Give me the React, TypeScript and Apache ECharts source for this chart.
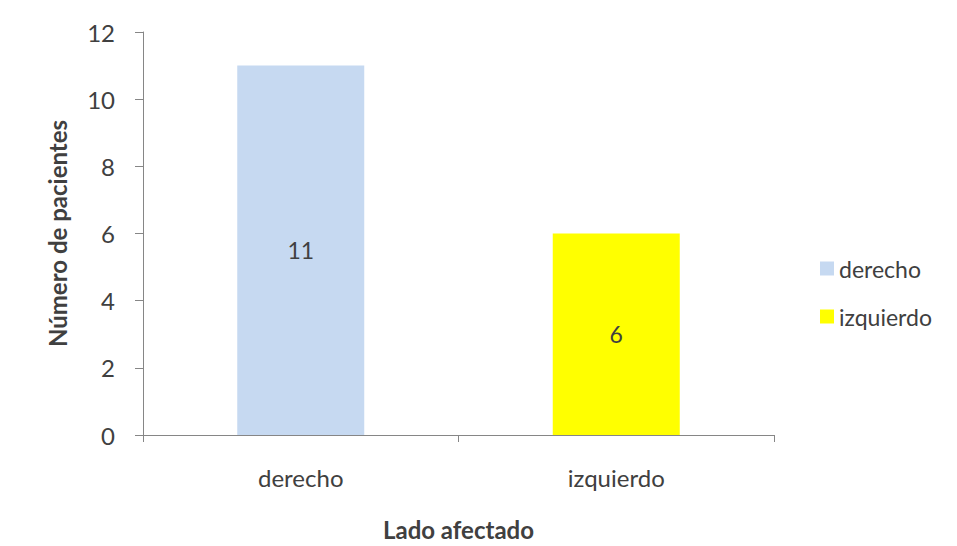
import React, { useEffect, useRef } from "react";
import * as echarts from "echarts";

const categories = ["derecho", "izquierdo"];
const seriesNames = ["derecho", "izquierdo"];
const values = [11, 6];
const colors = ["#C6D9F1", "#FFFF00"];
const yTicks = { min: 0, max: 12, interval: 2 };

const FONT = "Lato, 'Liberation Sans', sans-serif";
const TEXT = "#404040";
const AXIS = "#868686";

export default function App() {
  const ref = useRef<HTMLDivElement>(null);
  useEffect(() => {
    if (!ref.current) return;
    const chart = echarts.init(ref.current, undefined, { renderer: "svg" });
    const series = seriesNames.map((name, i) => ({
      name,
      type: "bar",
      stack: "s",
      barWidth: 127,
      itemStyle: { color: colors[i] },
      label: {
        show: true,
        position: "inside",
        color: TEXT,
        fontSize: 23,
        fontFamily: FONT,
      },
      data: categories.map((_, j) => (j === i ? values[i] : "-")),
    }));
    chart.setOption({
      animation: false,
      backgroundColor: "#ffffff",
      textStyle: { fontFamily: FONT },
      grid: { left: 143, right: 183, top: 32, bottom: 110, containLabel: false },
      legend: {
        orient: "vertical",
        left: 815,
        top: 252,
        icon: "rect",
        itemWidth: 14,
        itemHeight: 14,
        itemGap: 25,
        data: seriesNames,
        textStyle: { color: TEXT, fontSize: 23, fontFamily: FONT, lineHeight: 23 },
      },
      xAxis: {
        type: "category",
        data: categories,
        name: "Lado afectado",
        nameLocation: "middle",
        nameGap: 82,
        nameTextStyle: { color: TEXT, fontSize: 24, fontWeight: "bold", fontFamily: FONT },
        axisLine: { lineStyle: { color: AXIS, width: 1 } },
        axisTick: { show: true, length: 7, alignWithLabel: false, lineStyle: { color: AXIS } },
        axisLabel: { color: TEXT, fontSize: 24, margin: 30, fontFamily: FONT },
      },
      yAxis: {
        type: "value",
        min: yTicks.min,
        max: yTicks.max,
        interval: yTicks.interval,
        name: "Número de pacientes",
        nameLocation: "middle",
        nameGap: 74,
        nameTextStyle: { color: TEXT, fontSize: 24, fontWeight: "bold", fontFamily: FONT },
        axisLine: { show: true, lineStyle: { color: AXIS, width: 1 } },
        axisTick: { show: true, length: 8, lineStyle: { color: AXIS } },
        axisLabel: { color: TEXT, fontSize: 24, margin: 28, fontFamily: FONT },
        splitLine: { show: false },
      },
      series,
    });
    return () => chart.dispose();
  }, []);
  return (
    <div
      ref={ref}
      style={{ position: "fixed", left: 0, top: 0, width: 957, height: 546 }}
    />
  );
}
